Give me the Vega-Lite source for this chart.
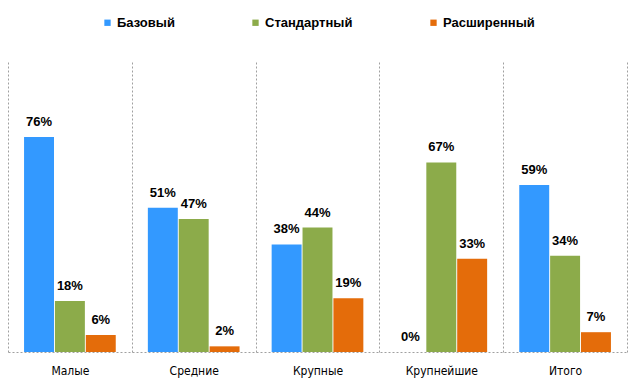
{
  "$schema": "https://vega.github.io/schema/vega-lite/v6.json",
  "autosize": {"type": "none"},
  "width": 619,
  "height": 290,
  "padding": {"left": 8, "top": 62, "right": 3, "bottom": 30},
  "background": "white",
  "config": {"view": {"stroke": null}, "font": "Liberation Sans"},
  "data": {"values": [
    {"cat": "Малые", "tier": "Базовый", "v": 0.76},
    {"cat": "Малые", "tier": "Стандартный", "v": 0.18},
    {"cat": "Малые", "tier": "Расширенный", "v": 0.06},
    {"cat": "Средние", "tier": "Базовый", "v": 0.51},
    {"cat": "Средние", "tier": "Стандартный", "v": 0.47},
    {"cat": "Средние", "tier": "Расширенный", "v": 0.02},
    {"cat": "Крупные", "tier": "Базовый", "v": 0.38},
    {"cat": "Крупные", "tier": "Стандартный", "v": 0.44},
    {"cat": "Крупные", "tier": "Расширенный", "v": 0.19},
    {"cat": "Крупнейшие", "tier": "Базовый", "v": 0.0},
    {"cat": "Крупнейшие", "tier": "Стандартный", "v": 0.67},
    {"cat": "Крупнейшие", "tier": "Расширенный", "v": 0.33},
    {"cat": "Итого", "tier": "Базовый", "v": 0.59},
    {"cat": "Итого", "tier": "Стандартный", "v": 0.34},
    {"cat": "Итого", "tier": "Расширенный", "v": 0.07}
  ]},
  "encoding": {
    "x": {
      "field": "cat", "type": "nominal",
      "sort": ["Малые", "Средние", "Крупные", "Крупнейшие", "Итого"],
      "scale": {"paddingInner": 0, "paddingOuter": 0},
      "axis": {
        "title": null, "labelAngle": 0, "ticks": false,
        "tickBand": "extent",
        "grid": true, "gridDash": [2, 2], "gridColor": "#a0a0a0", "gridWidth": 1,
        "domain": true, "domainDash": [2, 2], "domainColor": "#a0a0a0",
        "labelFont": "DejaVu Sans Condensed, Liberation Sans", "labelFontSize": 12, "labelColor": "#000",
        "labelPadding": 13
      }
    },
    "xOffset": {
      "field": "tier", "type": "nominal",
      "sort": ["Базовый", "Стандартный", "Расширенный"],
      "scale": {"paddingInner": 0.03, "paddingOuter": 0.52}
    },
    "y": {
      "field": "v", "type": "quantitative",
      "scale": {"domain": [0, 1.025], "nice": false, "zero": true},
      "axis": null
    }
  },
  "layer": [
    {
      "mark": {"type": "bar"},
      "encoding": {
        "color": {
          "field": "tier", "type": "nominal",
          "sort": ["Базовый", "Стандартный", "Расширенный"],
          "scale": {"domain": ["Базовый", "Стандартный", "Расширенный"], "range": ["#3399ff", "#8cab4a", "#e46c0a"]},
          "legend": {
            "title": null, "orient": "none", "direction": "horizontal",
            "legendX": 93, "legendY": -46,
            "symbolType": "square", "symbolSize": 40,
            "symbolStrokeWidth": 0, "labelFontSize": 13, "labelFontWeight": "bold",
            "labelColor": "#000", "columnPadding": 74, "labelOffset": 3
          }
        }
      }
    },
    {
      "mark": {"type": "text", "baseline": "bottom", "dy": -8, "fontSize": 13, "fontWeight": "bold", "color": "#000"},
      "encoding": {"text": {"field": "v", "type": "quantitative", "format": ".0%"}}
    }
  ]
}
